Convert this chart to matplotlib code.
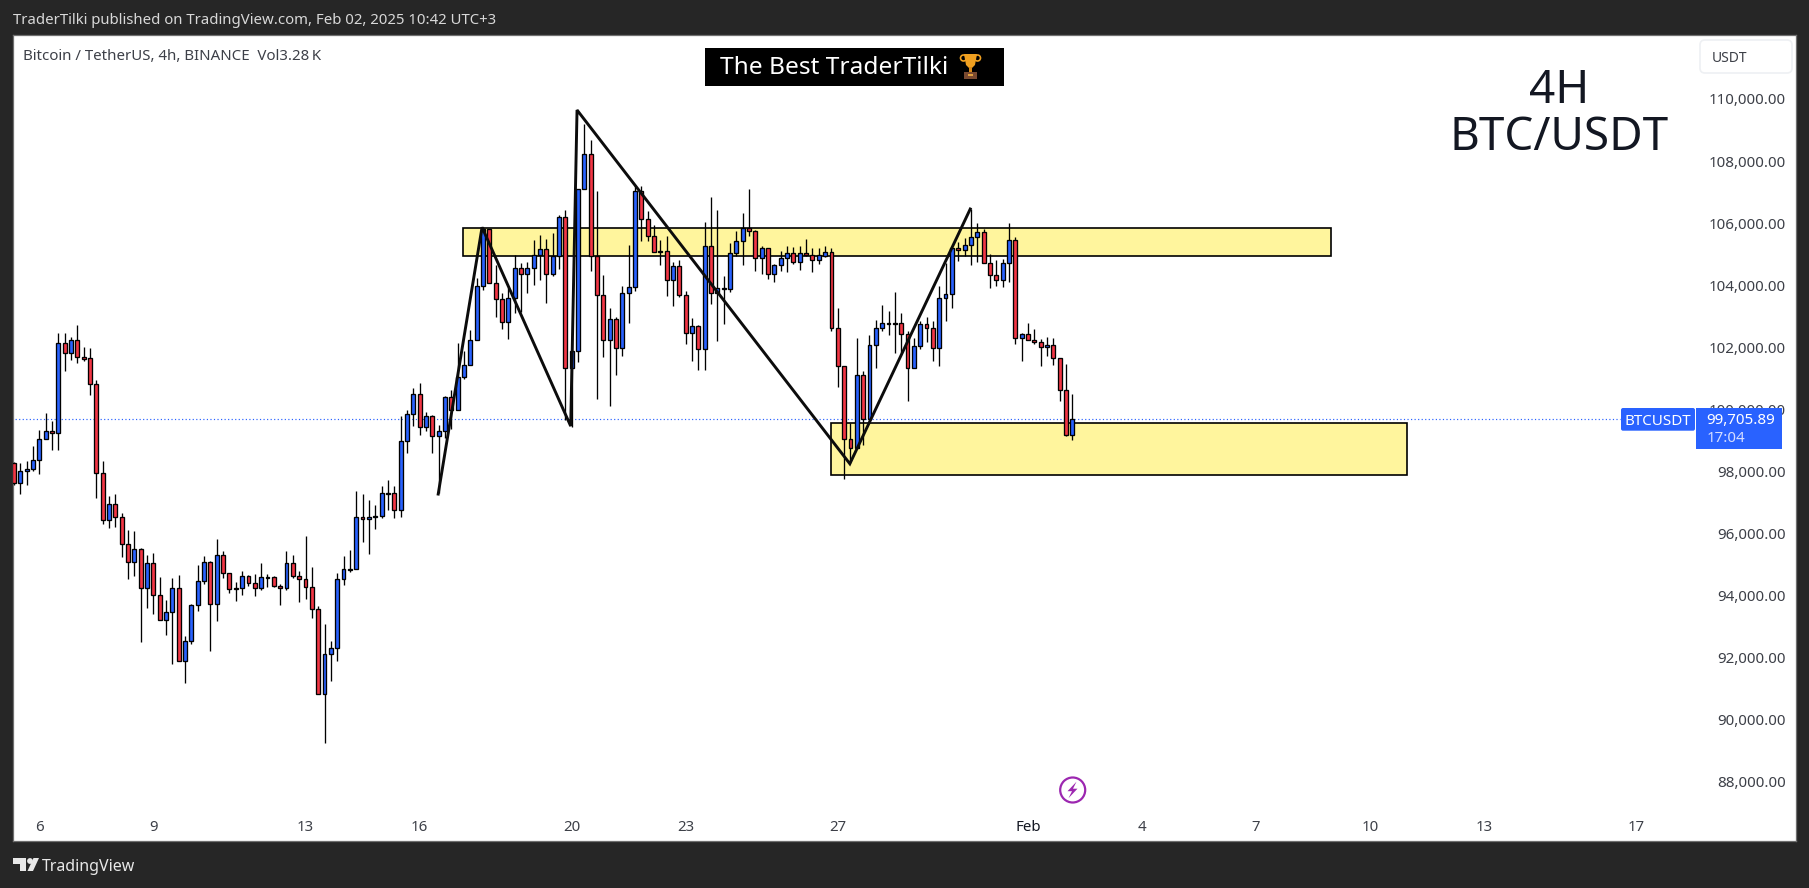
import matplotlib
matplotlib.use("Agg")
import matplotlib.pyplot as plt
from matplotlib.patches import Rectangle, FancyBboxPatch, Circle, Polygon
from matplotlib.transforms import ScaledTranslation

# Candle values: top of body, bottom of body, high, low, direction (1 = up/blue, 0 = down/red)
body_top = [
98286,98027,98092,98382,99059,99317,99317,102155,102155,102252,102252,101704,101672,100833,97963,96963,96963,96544,95673,95512,
95512,95060,95060,94028,93480,94254,94254,92545,93706,94480,95093,95093,95318,95318,94738,94254,94641,94641,94415,94609,
94620,94609,94319,95060,95060,94641,94544,94286,93577,92126,92319,94544,94867,94867,96544,96544,96544,96576,97318,97318,
97318,98995,99866,100511,100511,99801,99801,99317,100414,100414,101059,101446,102252,103994,105832,105832,104091,103575,103607,104574,
104574,104574,104994,105187,105187,104961,106215,106215,101894,107118,108247,108247,104968,103700,102926,102926,103764,103958,107054,107054,
106151,105603,105119,105119,104635,104635,103700,102700,102700,105280,105280,103926,103926,105054,105441,105861,105861,105764,105216,105216,
104667,104893,105054,105054,105054,105054,104990,104990,105088,105088,102637,101412,99057,101121,101121,102089,102637,102798,102798,102798,
102798,102444,102057,102766,102766,102637,103605,103734,105217,105217,105314,105572,105733,105733,104733,104346,104733,105475,105475,102444,
102444,102250,102186,102089,102089,101670,100638,99705.89]
body_bottom = [
97640,97640,98027,98092,98382,99059,99253,99253,101833,101833,101704,101661,100833,97963,96447,96447,96544,95673,95114,95114,
94254,94254,94028,93222,93222,93480,91900,91900,92545,93706,94480,93738,93738,94738,94222,94222,94254,94415,94254,94254,
94598,94319,94254,94254,94641,94544,94286,93577,90836,90836,92126,92319,94544,94845,94867,96479,96479,96565,96576,97307,
96770,96770,98995,99866,99468,99468,99156,99156,99317,99995,99995,101059,101446,102252,103994,104091,103575,102833,102833,103607,
104381,104381,104574,104994,104381,104381,104968,101346,101346,101894,107118,104968,103700,102249,102249,101991,101991,103764,103958,106151,
105603,105087,105108,104184,104184,103700,102474,102474,101958,101958,103764,103764,103915,103893,105054,105441,105764,104893,104893,104377,
104377,104667,104893,104764,104764,104990,104829,104829,104981,102637,101412,99057,98767,98767,99702,99702,102089,102637,102788,102788,
102444,101347,101347,102057,102637,101992,101992,103605,103734,105153,105153,105314,105572,104733,104346,104185,104185,104733,102315,102315,
102250,102186,102024,102024,101670,100638,99208,99208]
highs = [
98339,98286,98361,98844,99360,99898,99651,102478,102478,102349,102736,102026,101994,100962,98361,97232,97296,96684,96135,96103,
95555,95329,95394,94620,93878,94587,94684,92717,93749,95007,95297,95136,95845,95458,94738,94458,94813,94684,94716,95071,
94716,94652,94394,95458,95329,94813,95942,94942,93684,93104,92556,94749,95297,95490,97393,97296,97103,96942,97554,97748,
97554,99812,100006,100715,100876,99941,99844,99522,100457,100650,102155,101908,102586,104252,105918,105832,104671,103768,103929,104994,
104736,104768,105477,105649,105520,105703,106291,106441,102313,107118,109215,108699,107065,104356,103291,103001,103990,105323,107258,107215,
106420,105957,105484,105613,104764,104829,103840,102969,102732,106065,106871,106452,104323,105388,105775,106355,107129,105807,105280,105216,
104700,105119,105280,105248,105280,105506,105216,105216,105292,105217,103282,101412,99573,102315,101250,102422,102895,103379,103196,103809,
103121,102540,102315,102884,102992,102863,103992,104733,105217,105411,105540,106486,106034,105851,105034,104830,104873,106034,105572,102476,
102798,102616,102293,102358,102325,101670,101487,100519]
lows = [
97587,97296,97587,98049,97941,99059,98715,98715,101263,101618,101532,101586,100489,97178,96329,96200,96232,95265,94555,94652,
92523,93620,93426,93222,92749,91814,91900,91201,92459,93523,94394,92233,93201,94588,94104,93846,94039,94329,94007,94200,
94297,94297,93717,94200,94588,93813,93910,93297,90836,89266,91266,91911,94362,94781,94867,95748,95361,96168,96522,96780,
96522,96555,98619,99490,99199,99328,98619,97318,99102,99393,99995,100995,101446,102252,103876,104091,103005,102618,102295,103134,
103177,103768,104037,104198,103456,104338,104549,99680,99465,101561,107118,104485,100367,101722,100142,101131,101754,102808,103850,105452,
105452,105087,104678,103678,103356,103635,102130,101582,101292,101292,103420,102227,102775,103807,104968,104678,105613,104485,104388,104227,
104130,104485,104452,104710,104517,104968,104452,104710,104927,102562,100756,97789,98283,98767,98875,99573,101358,102562,102422,101842,
101842,100294,101347,101981,102196,101584,101422,102874,103293,104809,104970,104680,104776,104733,103938,104002,103970,104131,102132,101584,
102250,102132,101422,101745,101455,100294,99165,99036]
is_up = [
0,1,1,1,1,1,0,1,0,1,0,0,0,0,0,1,0,0,0,1,
0,1,0,0,1,1,0,1,1,1,1,0,1,0,0,0,1,0,0,1,
1,0,0,1,0,0,0,0,0,1,1,1,1,1,1,0,1,1,1,1,
0,1,1,1,0,1,0,1,1,0,1,1,1,1,1,0,0,0,1,1,
0,1,1,1,0,1,1,0,1,1,1,0,0,0,1,0,1,1,1,0,
0,0,1,0,1,0,0,1,0,1,0,1,1,1,1,1,0,0,1,0,
1,1,1,0,1,0,0,1,1,0,0,0,0,1,0,1,1,1,1,1,
0,0,1,1,0,0,1,1,1,0,1,1,1,0,0,0,1,1,0,1,
0,0,0,1,0,0,0,1]

# Drawings on the chart
zigzag_bar = [66.94, 73.86, 87.85, 88.85, 131.9, 150.9]
zigzag_price = [97296, 105897, 99486, 109677, 98273, 106486]
zone_upper = (70.9, 207.9, 104958, 105861)
zone_lower = (129.0, 219.9, 97896, 99584)
last_price = 99705.89

y_ticks = [88000, 90000, 92000, 94000, 96000, 98000, 100000, 102000, 104000, 106000, 108000, 110000]
x_ticks = [4, 22, 46, 64, 88, 106, 130, 160, 178, 196, 214, 232, 256]
x_labels = ["6", "9", "13", "16", "20", "23", "27", "Feb", "4", "7", "10", "13", "17"]

BG = "#262626"
BLUE = "#2962ff"
RED = "#f23645"
INK = "#131722"
FONT = "Noto Sans"
plt.rcParams["font.family"] = [FONT, "DejaVu Sans"]

W, H = 1809, 888
fig = plt.figure(figsize=(W / 100, H / 100), dpi=100, facecolor=BG)

L, R, T, B = 13, 1795.7, 35, 841
ax = fig.add_axes([L / W, 1 - B / H, (R - L) / W, (B - T) / H], facecolor="white")
ax.set_xlim(-0.158, 281.16)
ax.set_ylim(86112, 112095)
ax.set_axisbelow(True)
for s in ax.spines.values():
    s.set_color("#6f6f6f")
    s.set_linewidth(0.9)

# Zones
for x0, x1, p0, p1 in (zone_upper, zone_lower):
    ax.add_patch(Rectangle((x0, p0), x1 - x0, p1 - p0, facecolor="#fff59d",
                           edgecolor="black", linewidth=1.2, zorder=2))

# Last price line
ax.hlines(last_price, -1, 253.4, colors=BLUE, linestyles=(0, (1, 2)), linewidth=0.85, zorder=1.5)

# Candles
xs = list(range(len(body_top)))
ax.vlines(xs, lows, highs, colors="black", linewidth=0.95, zorder=2.5)
colors = [BLUE if u else RED for u in is_up]
heights = [t - b for t, b in zip(body_top, body_bottom)]
ax.bar(xs, heights, bottom=body_bottom, width=0.62, color=colors,
       edgecolor="black", linewidth=0.95, zorder=3)

# Zigzag
ax.plot(zigzag_bar, zigzag_price, color="#0c0c0c", linewidth=2.1, zorder=4,
        solid_joinstyle="miter")

# Axes ticks inside the panel
ax.yaxis.tick_right()
ax.set_yticks(y_ticks)
ax.set_yticklabels([f"{v:,.2f}" for v in y_ticks])
ax.tick_params(axis="y", length=0, pad=-7.2, labelsize=10.9, labelcolor="#3d4048")
shift = ScaledTranslation(0, -1.0 / 100, fig.dpi_scale_trans)
for lab in ax.get_yticklabels():
    lab.set_ha("right")
    lab.set_va("center")
    lab.set_transform(lab.get_transform() + shift)

ax.set_xticks(x_ticks)
ax.set_xticklabels(x_labels)
ax.tick_params(axis="x", length=0, pad=-9.8, labelsize=10.8, labelcolor="#3d4048")
for lab in ax.get_xticklabels():
    lab.set_va("center")
    if lab.get_text() == "Feb":
        lab.set_fontweight("bold")
        lab.set_color(INK)

# Overlay in pixel coordinates for the screenshot furniture
ov = fig.add_axes([0, 0, 1, 1])
ov.set_xlim(0, W)
ov.set_ylim(H, 0)
ov.axis("off")
ov.patch.set_alpha(0)

ov.text(13, 21, "TraderTilki published on TradingView.com, Feb 02, 2025 10:42 UTC+3",
        color="#d8d8d8", fontsize=10.75, va="center", ha="left")
ov.text(23, 57, "Bitcoin / TetherUS, 4h, BINANCE  Vol3.28\u2009K",
        color="#3d4048", fontsize=10.85, va="center", ha="left")

# Banner
ov.add_patch(Rectangle((705, 48), 298.7, 37.7, facecolor="black", edgecolor="none"))
ov.text(720, 68.5, "The Best TraderTilki", color="white", fontsize=17.6, va="center", ha="left")
# Trophy
ov.add_patch(Polygon([(964, 54), (977, 54), (975, 65), (972, 68), (969, 68), (966, 65)],
                     closed=True, facecolor="#f0a020", edgecolor="none"))
ov.add_patch(Circle((963.5, 58), 3, facecolor="none", edgecolor="#f0a020", linewidth=1.2))
ov.add_patch(Circle((977.5, 58), 3, facecolor="none", edgecolor="#f0a020", linewidth=1.2))
ov.add_patch(Rectangle((969.3, 67), 2.5, 5, facecolor="#d98a18", edgecolor="none"))
ov.add_patch(Rectangle((964, 72), 13, 7, facecolor="#7a4a30", edgecolor="none"))
ov.add_patch(Rectangle((968, 74.5), 5, 2, facecolor="#e0a040", edgecolor="none"))

# Big labels
ov.text(1559, 91, "4H", color=INK, fontsize=33, va="center", ha="center")
ov.text(1559, 138, "BTC/USDT", color=INK, fontsize=33, va="center", ha="center")

# USDT button
ov.add_patch(FancyBboxPatch((1700, 40), 92, 33, boxstyle="round,pad=0,rounding_size=5",
                            facecolor="white", edgecolor="#eef0f3", linewidth=1.2))
ov.text(1712, 59, "USDT", color="#3d4048", fontsize=10, va="center", ha="left")

# Last price tags
ov.add_patch(FancyBboxPatch((1621, 408), 74, 22.7, boxstyle="round,pad=0,rounding_size=2",
                            facecolor=BLUE, edgecolor="none"))
ov.text(1658, 421, "BTCUSDT", color="white", fontsize=10.9, va="center", ha="center")
ov.add_patch(Rectangle((1696, 408), 86, 40.7, facecolor=BLUE, edgecolor="none"))
ov.text(1706, 420, f"{last_price:,.2f}", color="white", fontsize=10.9, va="center", ha="left",
        fontweight="medium")
ov.text(1707, 438, "17:04", color="#d5ddff", fontsize=10.9, va="center", ha="left")

# Lightning badge
ov.add_patch(Circle((1072.7, 790), 12.5, facecolor="white", edgecolor="#9c27b0", linewidth=1.6))
ov.add_patch(Polygon([(1076.5, 781.7), (1067.5, 791.2), (1072, 791.2), (1068.5, 798.2),
                      (1077.5, 788.7), (1073, 788.7)],
                     closed=True, facecolor="#9c27b0", edgecolor="none"))

# TradingView logo
ov.add_patch(Polygon([(13, 858), (26, 858), (26, 871), (20, 871), (20, 864), (13, 864)],
                     closed=True, facecolor="#e8e8e8", edgecolor="none"))
ov.add_patch(Circle((30, 861), 2.9, facecolor="#e8e8e8", edgecolor="none"))
ov.add_patch(Polygon([(33, 871), (27.5, 871), (33.5, 858), (39, 858)],
                     closed=True, facecolor="#e8e8e8", edgecolor="none"))
ov.text(42, 867, "TradingView", color="#e8e8e8", fontsize=11.5, fontweight="bold", va="center", ha="left")

fig.savefig("out.png", dpi=100, facecolor=BG)
